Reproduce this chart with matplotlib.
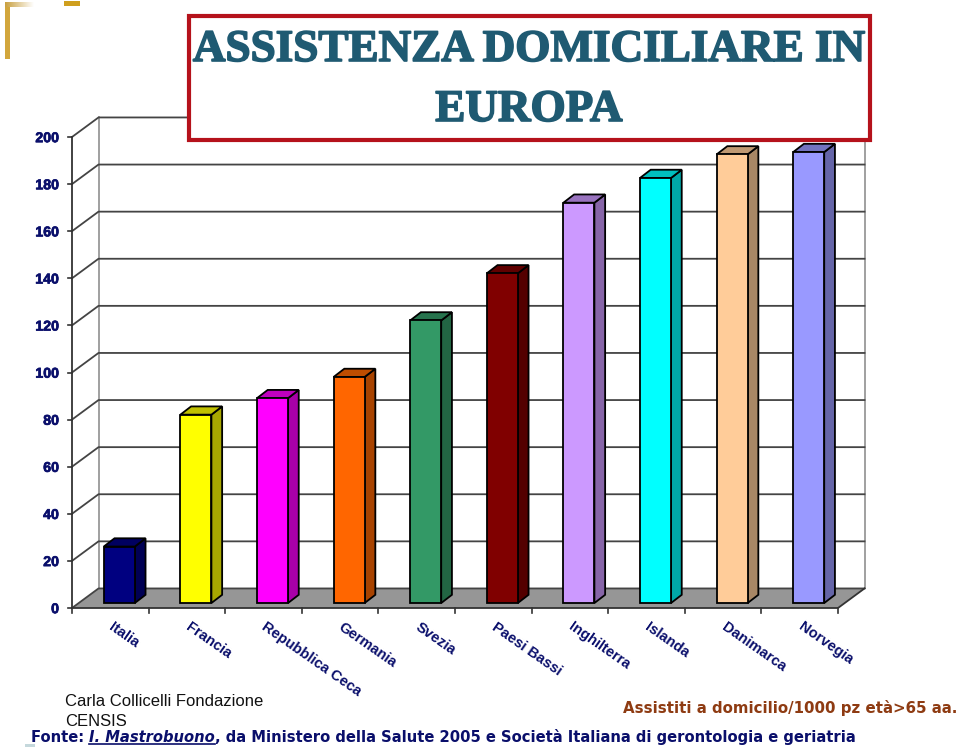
import numpy as np
import matplotlib
matplotlib.use("Agg")
import matplotlib.pyplot as plt
import matplotlib.patheffects as pe
from matplotlib.patches import Polygon, Rectangle

# data
paesi = ["Italia", "Francia", "Repubblica Ceca", "Germania", "Svezia",
         "Paesi Bassi", "Inghilterra", "Islanda", "Danimarca", "Norvegia"]
valori = [24, 80, 87, 96, 120, 140, 170, 180.5, 190.5, 191.5]
colori = ["#000080", "#FFFF00", "#FF00FF", "#FF6600", "#339966",
          "#800000", "#CC99FF", "#00FFFF", "#FFCC99", "#9999FF"]
tacche = list(range(0, 201, 20))

W, H = 960, 747
NAVY = "#0A0F6B"

fig = plt.figure(figsize=(W / 100, H / 100), dpi=100)
# chart axes: x in category slots, y in values
ax = fig.add_axes([72 / W, (H - 608) / H, 766 / W, 471 / H])
ax.set_xlim(0, 10)
ax.set_ylim(0, 200)
ax.axis("off")

# oblique depth of the walls and of the bars
dx, dy = 0.346, 8.3
bdx, bdy = 0.14, 3.5
larg = 0.405
base = 2.1

# floor and walls
ax.add_patch(Polygon([(0, 0), (dx, dy), (10 + dx, dy), (10, 0)], closed=True,
                     fc="#969696", ec="none", clip_on=False, zorder=1))
for t in tacche:
    ax.plot([0, dx, 10 + dx], [t, t + dy, t + dy], color="#444444", lw=1.3,
            clip_on=False, zorder=1.5)
    ax.plot([-0.05, 0], [t, t], color="#333333", lw=1.2, clip_on=False, zorder=2)
    ax.text(-0.17, t - 0.5, str(t), ha="right", va="center", color=NAVY, fontsize=10.2,
            fontweight="bold", family="Liberation Sans",
            path_effects=[pe.withStroke(linewidth=0.5, foreground=NAVY)])
ax.plot([dx, dx], [dy, 200 + dy], color="#999999", lw=1.3, clip_on=False, zorder=1.4)
ax.plot([10 + dx, 10 + dx], [dy, 200 + dy], color="#999999", lw=1.3, clip_on=False, zorder=1.4)
ax.plot([0, 0], [0, 200], color="#333333", lw=1.3, clip_on=False, zorder=2)
ax.plot([0, 10, 10 + dx], [0, 0, dy], color="#333333", lw=1.3, clip_on=False, zorder=2)
for i in range(11):
    ax.plot([i, i], [0, -2], color="#333333", lw=1.2, clip_on=False, zorder=2)

# bars, front face plus side and top
x = np.arange(10) + 0.415
ax.bar(x, valori, width=larg, bottom=base, align="edge", color=colori,
       edgecolor="black", linewidth=1.3, clip_on=False, zorder=4)
for xi, v, c in zip(x, valori, colori):
    rgb = np.array(matplotlib.colors.to_rgb(c))
    top = v + base
    ax.add_patch(Polygon([(xi + larg, base), (xi + larg + bdx, base + bdy),
                          (xi + larg + bdx, top + bdy), (xi + larg, top)], closed=True,
                         fc=rgb * 0.66, ec="black", lw=1.3, clip_on=False, zorder=3))
    ax.add_patch(Polygon([(xi, top), (xi + bdx, top + bdy),
                          (xi + larg + bdx, top + bdy), (xi + larg, top)], closed=True,
                         fc=rgb * 0.75, ec="black", lw=1.3, clip_on=False, zorder=3))

# slanted category labels
for i, nome in enumerate(paesi):
    ax.text(i + 0.5, -7.5, nome, rotation=-35, rotation_mode="anchor", ha="left",
            va="center", color=NAVY, fontsize=10.5, fontweight="bold",
            family="Liberation Sans", clip_on=False)

# overlay in pixel coordinates for the slide furniture
ov = fig.add_axes([0, 0, 1, 1])
ov.axis("off")
ov.patch.set_alpha(0)

# gold corner
ov.imshow(np.linspace(0, 1, 64).reshape(1, -1), extent=(5, 34, 7, 2), aspect="auto",
          cmap=matplotlib.colors.LinearSegmentedColormap.from_list("g", ["#C9A040", "#FFFFFF"]))
ov.set_xlim(0, W)
ov.set_ylim(H, 0)
ov.add_patch(Rectangle((5, 7), 5, 52, fc="#D2A63C", ec="none"))
ov.add_patch(Rectangle((64, 1), 16, 5, fc="#CF9F1E", ec="none"))
ov.add_patch(Rectangle((25, 744), 10, 3, fc="#C5D8DC", ec="none"))

# title box
ov.add_patch(Rectangle((189, 16), 681, 124, fc="white", ec="#B5121B", lw=3, zorder=5))
for riga, yy in [("ASSISTENZA DOMICILIARE IN", 50), ("EUROPA", 110)]:
    ov.text(529, yy, riga, ha="center", va="center", color="#1F5A72", fontsize=32.5,
            fontweight="bold", family="Liberation Serif", zorder=6,
            path_effects=[pe.withStroke(linewidth=1.2, foreground="#1F5A72")])

# notes at the bottom
ov.text(65, 702, "Carla Collicelli Fondazione", ha="left", va="center", color="#111111",
        fontsize=12, family="Liberation Sans")
ov.text(65, 721, "CENSIS", ha="left", va="center", color="#111111", fontsize=12,
        family="Liberation Sans")
ov.text(957, 708, "Assistiti a domicilio/1000 pz età>65 aa.", ha="right", va="center",
        color="#8E3B12", fontsize=10.8, fontweight="bold", family="DejaVu Sans")

# source line, built piece by piece because one part is italic and underlined
r = fig.canvas.get_renderer()
xp = 31
pezzi = [("Fonte: ", "normal"), ("I. Mastrobuono", "italic"),
         (", da Ministero della Salute 2005 e Società Italiana di gerontologia e geriatria", "normal")]
for testo, stile in pezzi:
    t = ov.text(xp, 737, testo.replace(" ", "\u00a0"), ha="left", va="center", color=NAVY,
                fontsize=10.65, fontweight="bold", style=stile, family="DejaVu Sans")
    larghezza = t.get_window_extent(r).width
    if stile == "italic":
        ov.plot([xp, xp + larghezza], [744, 744], color=NAVY, lw=1.2)
    xp += larghezza

fig.savefig("out.png", dpi=100)
